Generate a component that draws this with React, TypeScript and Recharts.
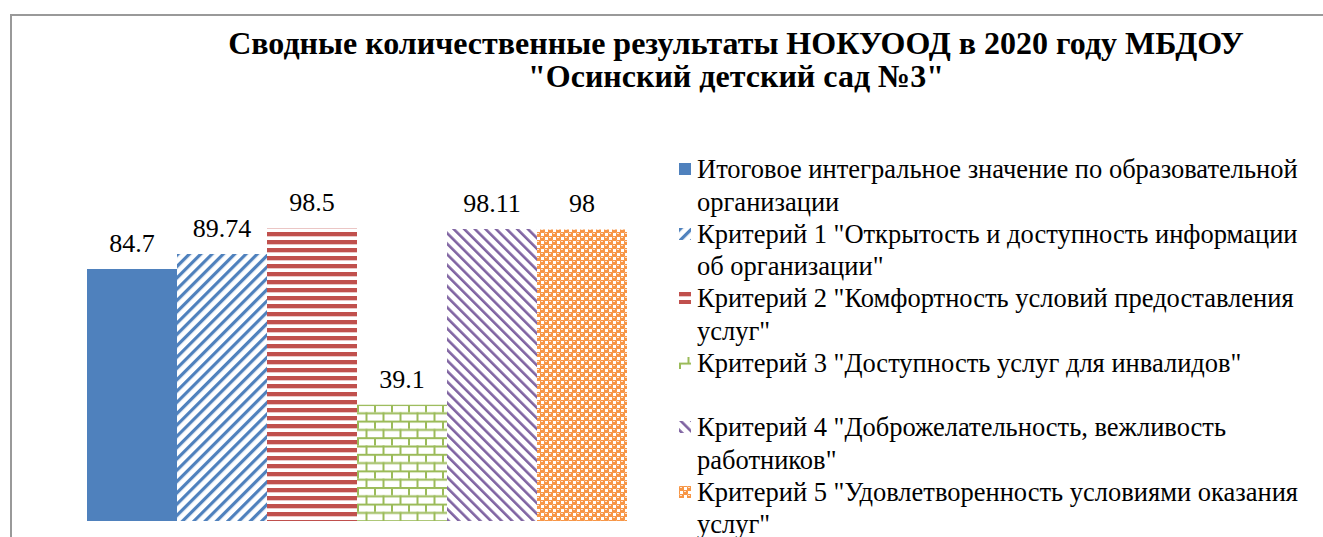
import React from 'react';
import { BarChart, Bar, XAxis, YAxis, LabelList, Legend } from 'recharts';

// one category, six series
const categories = ['2020'];
const seriesKeys = ['total', 'c1', 'c2', 'c3', 'c4', 'c5'];
const seriesValues = [84.7, 89.74, 98.5, 39.1, 98.11, 98];
const seriesNames = [
  'Итоговое интегральное значение по образовательной\nорганизации',
  'Критерий 1 "Открытость и доступность информации\nоб организации"',
  'Критерий 2 "Комфортность условий предоставления\nуслуг"',
  'Критерий 3 "Доступность услуг для инвалидов"',
  'Критерий 4 "Доброжелательность, вежливость\nработников"',
  'Критерий 5 "Удовлетворенность условиями оказания\nуслуг"',
];
const seriesFills = [
  '#4F81BD',
  'url(#pat-up)',
  'url(#pat-horiz)',
  'url(#pat-brick)',
  'url(#pat-down)',
  'url(#pat-sphere)',
];

const data = categories.map((name) => {
  const row: Record<string, string | number> = { name };
  seriesKeys.forEach((k, i) => {
    row[k] = seriesValues[i];
  });
  return row;
});

const FONT = 'Liberation Serif';

function Patterns() {
  return (
    <defs>
      <pattern id="pat-up" patternUnits="userSpaceOnUse" width="8" height="8" patternTransform="rotate(45)">
        <rect x="0" y="0" width="8" height="8" fill="#fff" />
        <rect x="0" y="0" width="3.2" height="8" fill="#4F81BD" />
      </pattern>
      <pattern id="pat-down" patternUnits="userSpaceOnUse" width="7.5" height="7.5" patternTransform="rotate(-45)">
        <rect x="0" y="0" width="7.5" height="7.5" fill="#fff" />
        <rect x="0" y="0" width="2.6" height="7.5" fill="#8064A2" />
      </pattern>
      <pattern id="pat-horiz" patternUnits="userSpaceOnUse" width="8" height="8">
        <rect x="0" y="0" width="8" height="8" fill="#fff" />
        <rect x="0" y="0" width="8" height="4" fill="#C0504D" />
        <rect x="0" y="4" width="8" height="0.8" fill="#E6B8B7" />
      </pattern>
      <pattern id="pat-brick" patternUnits="userSpaceOnUse" width="17" height="16.6" x="357" y="404">
        <rect x="0" y="0" width="17" height="16.6" fill="#fff" />
        <rect x="0" y="0" width="17" height="2" fill="#9BBB59" />
        <rect x="0" y="8.3" width="17" height="2" fill="#9BBB59" />
        <rect x="0" y="0" width="2" height="8.3" fill="#9BBB59" />
        <rect x="8.5" y="8.3" width="2" height="8.3" fill="#9BBB59" />
      </pattern>
      <pattern id="pat-sphere" patternUnits="userSpaceOnUse" width="8" height="8">
        <rect x="0" y="0" width="8" height="8" fill="#fff" />
        <rect x="0" y="0" width="5" height="5" rx="1" fill="#F79646" />
        <rect x="4" y="4" width="5" height="5" rx="1" fill="#F79646" />
        <rect x="-4" y="4" width="5" height="5" rx="1" fill="#F79646" />
        <rect x="4" y="-4" width="5" height="5" rx="1" fill="#F79646" />
        <rect x="1" y="1" width="2" height="1" fill="#FDE4D0" />
        <rect x="5" y="5" width="2" height="1" fill="#FDE4D0" />
      </pattern>
    </defs>
  );
}

function LegendContent() {
  return (
    <div style={{ fontFamily: FONT, fontSize: 26.5, color: '#000' }}>
      {seriesNames.map((n, i) => (
        <div key={seriesKeys[i]} style={{ display: 'flex', height: 64.5 }}>
          <svg width={12} height={12} style={{ marginTop: 10, marginRight: 6, flexShrink: 0 }}>
            <rect x={0} y={0} width={12} height={12} fill={seriesFills[i]} />
          </svg>
          <div style={{ whiteSpace: 'pre', lineHeight: '32.5px' }}>{n}</div>
        </div>
      ))}
    </div>
  );
}

export default function App() {
  return (
    <div style={{ position: 'absolute', left: 0, top: 0, width: 1323, height: 537, background: '#fff', overflow: 'hidden' }}>
      <div
        style={{
          position: 'absolute',
          left: 10,
          top: 14,
          width: 1400,
          height: 600,
          border: '2px solid #999',
          boxSizing: 'border-box',
        }}
      />
      <div
        style={{
          position: 'absolute',
          left: 136,
          width: 1200,
          top: 27,
          textAlign: 'center',
          fontFamily: FONT,
          fontWeight: 'bold',
          fontSize: 32,
          lineHeight: '33px',
        }}
      >
        Сводные количественные результаты НОКУООД в 2020 году МБДОУ
        <br />
        "Осинский детский сад №3"
      </div>
      <div style={{ position: 'absolute', left: 0, top: 0 }}>
        <BarChart
          width={1323}
          height={537}
          data={data}
          margin={{ top: 223.5, left: 87, right: 696, bottom: 16 }}
          barCategoryGap={0}
          barGap={0}
        >
          <Patterns />
          <XAxis dataKey="name" hide />
          <YAxis hide domain={[0, 100]} />
          <Legend
            layout="vertical"
            align="center"
            verticalAlign="middle"
            content={<LegendContent />}
            wrapperStyle={{ left: 679, top: 153, width: 644 }}
          />
          {seriesKeys.map((k, i) => (
            <Bar key={k} dataKey={k} name={seriesNames[i]} fill={seriesFills[i]} isAnimationActive={false}>
              <LabelList
                dataKey={k}
                position="top"
                offset={17}
                fill="#000"
                fontFamily={FONT}
                fontSize={26}
              />
            </Bar>
          ))}
        </BarChart>
      </div>
    </div>
  );
}
